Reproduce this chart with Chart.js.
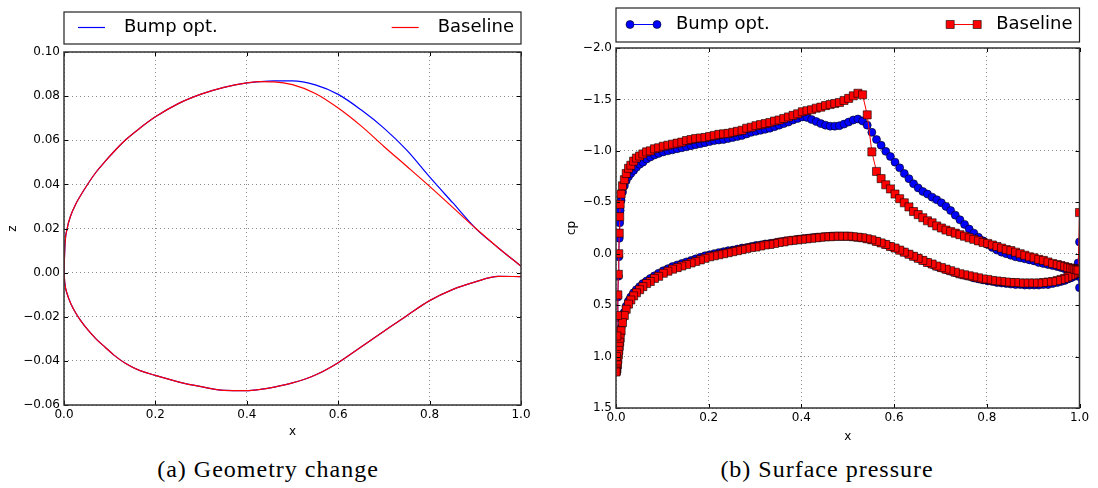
<!DOCTYPE html>
<html>
<head>
<meta charset="utf-8">
<title>Geometry change and surface pressure</title>
<script src="https://cdn.jsdelivr.net/npm/chart.js@4.4.1/dist/chart.umd.min.js"></script>
<style>
    html, body { margin: 0; padding: 0; background: #fff; }
    #page { position: relative; width: 1098px; height: 488px; overflow: hidden; }
    canvas { position: absolute; top: 0; }
    #geoChart { left: 0; }
    #cpChart { left: 549px; }
    .caption {
        position: absolute;
        top: 457px;
        font-family: "Liberation Serif", serif;
        font-size: 24px;
        line-height: 24px;
        letter-spacing: 1px;
        white-space: nowrap;
        transform: translateX(-50%);
        color: #000;
    }
</style>
</head>
<body>
<div id="page">
    <canvas id="geoChart" width="549" height="450" style="width:549px;height:450px"></canvas>
    <canvas id="cpChart" width="549" height="450" style="width:549px;height:450px"></canvas>
    <div class="caption" style="left:268px">(a) Geometry change</div>
    <div class="caption" style="left:827px">(b) Surface pressure</div>
</div>
<script>
// ---- (a) airfoil geometry ----
const geoX = [0, 0.002, 0.007, 0.015, 0.025, 0.035, 0.05, 0.07, 0.09, 0.11,
    0.135, 0.165, 0.2, 0.25, 0.3, 0.35, 0.4, 0.43, 0.46, 0.5,
    0.55, 0.6, 0.65, 0.7, 0.75, 0.8, 0.85, 0.9, 0.95, 1.0];
const baseUpperZ = [0, 0.0122, 0.02, 0.026, 0.0308, 0.0345, 0.0395, 0.0455, 0.0504, 0.0550,
    0.0602, 0.0653, 0.0706, 0.0766, 0.0809, 0.0840, 0.0860, 0.0866, 0.0865, 0.0852,
    0.0812, 0.0746, 0.0665, 0.0572, 0.0482, 0.0391, 0.0297, 0.0202, 0.0113, 0.0029];
const bumpUpperZ = [0, 0.0122, 0.02, 0.026, 0.0308, 0.0345, 0.0395, 0.0455, 0.0504, 0.0550,
    0.0602, 0.0653, 0.0706, 0.0766, 0.0809, 0.0840, 0.0860, 0.0866, 0.0869, 0.0869,
    0.0851, 0.0808, 0.0738, 0.0655, 0.0555, 0.0434, 0.0318, 0.0202, 0.0113, 0.0029];
const lowerZ = [0, -0.0052, -0.0097, -0.0141, -0.0181, -0.0213, -0.0254, -0.030, -0.0338, -0.0375,
    -0.0412, -0.0443, -0.0466, -0.0495, -0.0517, -0.0534, -0.0535, -0.0529, -0.0519, -0.0500,
    -0.0464, -0.0408, -0.0337, -0.0266, -0.0195, -0.0127, -0.0077, -0.0042, -0.0017, -0.0018];

// ---- (b) surface pressure, same x stations on both surfaces ----
const cpX = [0, 0.001, 0.002, 0.003, 0.004, 0.005, 0.006, 0.007, 0.008, 0.009,
    0.011, 0.014, 0.018, 0.022, 0.027, 0.032, 0.038, 0.044, 0.051, 0.058,
    0.066, 0.074, 0.083, 0.092, 0.102, 0.112, 0.122, 0.132, 0.142,
    0.152, 0.162, 0.172, 0.182, 0.192, 0.202, 0.212, 0.222, 0.232, 0.242,
    0.252, 0.262, 0.272, 0.282, 0.292, 0.302, 0.312, 0.322, 0.332, 0.342,
    0.352, 0.362, 0.372, 0.382, 0.392, 0.402, 0.412, 0.422, 0.432, 0.442,
    0.452, 0.462, 0.472, 0.482, 0.492, 0.502, 0.512, 0.522, 0.532, 0.542,
    0.552, 0.562, 0.572, 0.582, 0.592, 0.602, 0.612, 0.622, 0.632, 0.642,
    0.652, 0.662, 0.672, 0.682, 0.692, 0.702, 0.712, 0.722, 0.732, 0.742,
    0.752, 0.762, 0.772, 0.782, 0.792, 0.802, 0.812, 0.822, 0.832, 0.842,
    0.852, 0.862, 0.872, 0.882, 0.892, 0.902, 0.912, 0.922, 0.932, 0.942,
    0.952, 0.96, 0.968, 0.975, 0.981, 0.986, 0.99, 0.994, 0.997, 1.0];
const baseUpperCp = [1.15, 1.00, 0.80, 0.60, 0.40, 0.20, 0.00, -0.20, -0.36, -0.48,
    -0.58, -0.66, -0.72, -0.78, -0.83, -0.86, -0.90, -0.93, -0.95, -0.97,
    -0.99, -1.00, -1.02, -1.03, -1.045, -1.055, -1.065, -1.075, -1.085,
    -1.10, -1.11, -1.12, -1.125, -1.13, -1.14, -1.15, -1.16, -1.165, -1.17,
    -1.18, -1.19, -1.20, -1.22, -1.23, -1.245, -1.255, -1.265, -1.275, -1.29,
    -1.30, -1.315, -1.33, -1.345, -1.36, -1.38, -1.39, -1.40, -1.415, -1.425,
    -1.44, -1.45, -1.46, -1.47, -1.49, -1.51, -1.535, -1.56, -1.545, -1.35,
    -0.99, -0.80, -0.73, -0.67, -0.63, -0.58, -0.535, -0.495, -0.455, -0.41,
    -0.38, -0.35, -0.32, -0.30, -0.27, -0.25, -0.23, -0.215, -0.20, -0.185,
    -0.17, -0.155, -0.14, -0.125, -0.11, -0.10, -0.085, -0.07, -0.055, -0.04,
    -0.03, -0.015, 0.00, 0.015, 0.03, 0.04, 0.055, 0.065, 0.08, 0.095,
    0.105, 0.115, 0.125, 0.135, 0.14, 0.145, 0.15, 0.155, 0.16, -0.40];
const bumpUpperCp = [1.15, 1.00, 0.82, 0.62, 0.42, 0.22, 0.03, -0.15, -0.30, -0.42,
    -0.52, -0.60, -0.66, -0.71, -0.75, -0.78, -0.81, -0.84, -0.87, -0.89,
    -0.92, -0.94, -0.96, -0.975, -0.99, -1.00, -1.01, -1.02, -1.03,
    -1.04, -1.05, -1.06, -1.07, -1.08, -1.09, -1.10, -1.105, -1.11, -1.12,
    -1.13, -1.14, -1.15, -1.165, -1.18, -1.19, -1.20, -1.21, -1.22, -1.235,
    -1.25, -1.265, -1.28, -1.30, -1.315, -1.33, -1.325, -1.305, -1.285, -1.265,
    -1.25, -1.24, -1.24, -1.245, -1.26, -1.28, -1.30, -1.31, -1.29, -1.25,
    -1.18, -1.11, -1.055, -0.995, -0.945, -0.89, -0.835, -0.78, -0.73, -0.68,
    -0.64, -0.605, -0.58, -0.55, -0.525, -0.495, -0.46, -0.42, -0.375, -0.33,
    -0.285, -0.24, -0.20, -0.16, -0.125, -0.09, -0.06, -0.035, -0.015, 0.00,
    0.015, 0.03, 0.04, 0.05, 0.06, 0.07, 0.085, 0.095, 0.105, 0.115,
    0.125, 0.135, 0.145, 0.155, 0.16, 0.17, 0.175, 0.18, 0.09, -0.115];
const baseLowerCp = [1.15, 1.14, 1.12, 1.08, 1.03, 0.98, 0.94, 0.90, 0.86, 0.82,
    0.75, 0.67, 0.60, 0.54, 0.49, 0.45, 0.41, 0.38, 0.35, 0.32,
    0.29, 0.27, 0.24, 0.22, 0.19, 0.17, 0.15, 0.135, 0.12,
    0.105, 0.09, 0.075, 0.06, 0.045, 0.03, 0.02, 0.01, 0.00, -0.01,
    -0.02, -0.03, -0.04, -0.05, -0.06, -0.065, -0.075, -0.085, -0.09, -0.10,
    -0.11, -0.115, -0.125, -0.13, -0.135, -0.14, -0.145, -0.15, -0.155, -0.16,
    -0.165, -0.165, -0.17, -0.17, -0.17, -0.17, -0.165, -0.16, -0.155, -0.145,
    -0.135, -0.12, -0.105, -0.09, -0.07, -0.055, -0.035, -0.015, 0.005, 0.025,
    0.045, 0.065, 0.085, 0.10, 0.12, 0.135, 0.15, 0.165, 0.18, 0.195,
    0.205, 0.215, 0.225, 0.235, 0.245, 0.25, 0.26, 0.265, 0.27, 0.275,
    0.28, 0.28, 0.285, 0.285, 0.285, 0.285, 0.285, 0.28, 0.275, 0.27,
    0.26, 0.25, 0.24, 0.225, 0.21, 0.20, 0.19, 0.18, 0.17, 0.15];
const bumpLowerCp = [1.15, 1.14, 1.11, 1.07, 1.02, 0.97, 0.92, 0.88, 0.84, 0.80,
    0.72, 0.64, 0.57, 0.51, 0.46, 0.42, 0.38, 0.35, 0.32, 0.29,
    0.265, 0.24, 0.215, 0.19, 0.165, 0.145, 0.125, 0.11, 0.095,
    0.08, 0.065, 0.05, 0.035, 0.02, 0.01, 0.00, -0.01, -0.02, -0.03,
    -0.035, -0.045, -0.055, -0.06, -0.07, -0.08, -0.085, -0.095, -0.10, -0.105,
    -0.115, -0.12, -0.125, -0.13, -0.14, -0.145, -0.15, -0.155, -0.16, -0.16,
    -0.165, -0.17, -0.17, -0.17, -0.17, -0.17, -0.165, -0.16, -0.155, -0.145,
    -0.135, -0.12, -0.105, -0.09, -0.07, -0.055, -0.035, -0.015, 0.005, 0.025,
    0.045, 0.065, 0.085, 0.105, 0.125, 0.14, 0.155, 0.17, 0.185, 0.20,
    0.21, 0.22, 0.235, 0.245, 0.255, 0.265, 0.27, 0.28, 0.285, 0.29,
    0.295, 0.30, 0.30, 0.305, 0.305, 0.305, 0.305, 0.30, 0.30, 0.29,
    0.28, 0.27, 0.26, 0.245, 0.235, 0.225, 0.21, 0.20, 0.22, 0.33];

Chart.defaults.font.family = '"DejaVu Sans", sans-serif';
Chart.defaults.font.size = 12;
Chart.defaults.color = '#000';

function toPoints(xs, ys) {
    return xs.map((x, i) => ({ x: x, y: ys[i] }));
}

// Walk the surface: lower from trailing edge to nose, then upper back to trailing edge
function buildLoop(xs, lower, upper) {
    const pts = [];
    for (let i = xs.length - 1; i >= 0; i--) pts.push({ x: xs[i], y: lower[i] });
    for (let i = 1; i < xs.length; i++) pts.push({ x: xs[i], y: upper[i] });
    return pts;
}

function tickFormat(decimals) {
    return value => {
        if (Math.abs(value) < 1e-9) value = 0;
        return value.toFixed(decimals).replace('-', '\u2212');
    };
}

// Box frame with inward tick marks, matplotlib style
const framePlugin = {
    id: 'frame',
    afterDraw(chart) {
        const { ctx, chartArea: a, scales } = chart;
        ctx.save();
        ctx.strokeStyle = '#000';
        ctx.lineWidth = 1;
        ctx.beginPath();
        scales.x.ticks.forEach(t => {
            const px = Math.round(scales.x.getPixelForValue(t.value)) + 0.5;
            ctx.moveTo(px, a.bottom); ctx.lineTo(px, a.bottom - 4);
            ctx.moveTo(px, a.top); ctx.lineTo(px, a.top + 4);
        });
        scales.y.ticks.forEach(t => {
            const py = Math.round(scales.y.getPixelForValue(t.value)) + 0.5;
            ctx.moveTo(a.left, py); ctx.lineTo(a.left + 4, py);
            ctx.moveTo(a.right, py); ctx.lineTo(a.right - 4, py);
        });
        ctx.stroke();
        ctx.strokeStyle = '#333';
        ctx.lineWidth = 1.5;
        ctx.strokeRect(a.left, a.top, a.right - a.left, a.bottom - a.top);
        ctx.restore();
    }
};

function drawMarker(ctx, ds, x, y) {
    ctx.fillStyle = ds.pointBackgroundColor;
    ctx.strokeStyle = ds.pointBorderColor;
    ctx.lineWidth = ds.pointBorderWidth;
    ctx.beginPath();
    if (ds.pointStyle === 'rect') {
        const s = ds.pointRadius * Math.SQRT1_2;
        ctx.rect(x - s, y - s, 2 * s, 2 * s);
    } else {
        ctx.arc(x, y, ds.pointRadius, 0, Math.PI * 2);
    }
    ctx.fill();
    ctx.stroke();
}

// Legend box above the plot: first entry on the left, second pushed to the right
const boxLegend = {
    id: 'boxLegend',
    afterDraw(chart, args, opts) {
        const { ctx, chartArea: a } = chart;
        const items = [];
        chart.data.datasets.forEach(ds => {
            if (!items.some(it => it.label === ds.label)) items.push(ds);
        });
        ctx.save();
        ctx.strokeStyle = '#222';
        ctx.lineWidth = 1.2;
        ctx.strokeRect(a.left, opts.top, a.right - a.left, opts.bottom - opts.top);
        const y = (opts.top + opts.bottom) / 2 - 0.5;
        ctx.font = '18px "DejaVu Sans", sans-serif';
        ctx.textBaseline = 'middle';
        items.forEach((ds, i) => {
            let textX;
            ctx.fillStyle = '#000';
            if (i === 0) {
                textX = a.left + 60;
                ctx.textAlign = 'left';
                ctx.fillText(ds.label, textX, y);
            } else {
                const endX = a.right - 7;
                ctx.textAlign = 'right';
                ctx.fillText(ds.label, endX, y);
                textX = endX - ctx.measureText(ds.label).width;
            }
            const x0 = textX - 46, x1 = textX - 19;
            ctx.strokeStyle = ds.borderColor;
            ctx.lineWidth = ds.borderWidth;
            ctx.beginPath();
            ctx.moveTo(x0, y); ctx.lineTo(x1, y);
            ctx.stroke();
            if (ds.pointRadius > 0) {
                drawMarker(ctx, ds, x0, y);
                drawMarker(ctx, ds, x1, y);
            }
        });
        ctx.restore();
    }
};

function axes(cfg) {
    const grid = { color: '#8a8a8a', lineWidth: 1, drawTicks: false, borderDash: [1, 3] };
    const border = { display: false, dash: [1, 3] };
    return {
        x: {
            type: 'linear', min: 0, max: 1,
            ticks: { stepSize: 0.2, padding: cfg.xTickPad, autoSkip: false, maxRotation: 0, callback: tickFormat(1) },
            grid: grid, border: border,
            title: { display: true, text: 'x', padding: { top: 0, bottom: cfg.xTitlePad } },
            afterFit: scale => { scale.height = cfg.xHeight; }
        },
        y: {
            type: 'linear', min: cfg.yMin, max: cfg.yMax, reverse: cfg.reverse,
            ticks: { stepSize: cfg.yStep, padding: 4, autoSkip: false, callback: tickFormat(cfg.yDecimals) },
            grid: grid, border: border,
            title: { display: true, text: cfg.yTitle, padding: { top: cfg.yTitlePad, bottom: 0 } },
            afterFit: scale => { scale.width = cfg.yWidth; }
        }
    };
}

function baseOptions(padding, legendBox, scales) {
    return {
        responsive: false,
        animation: false,
        events: [],
        layout: { padding: padding },
        plugins: {
            legend: { display: false },
            tooltip: { enabled: false },
            boxLegend: legendBox
        },
        scales: scales
    };
}

function geoSurface(label, color, zs, order) {
    return {
        label: label,
        data: toPoints(geoX, zs),
        borderColor: color, borderWidth: 1.2,
        pointRadius: 0,
        cubicInterpolationMode: 'monotone',
        order: order
    };
}

function initGeometryChart() {
    new Chart(document.getElementById('geoChart'), {
        type: 'line',
        data: {
            datasets: [
                geoSurface('Bump opt.', '#0000ff', bumpUpperZ, 1),
                geoSurface('Bump opt.', '#0000ff', lowerZ, 1),
                geoSurface('Baseline', '#ff0000', baseUpperZ, 0),
                geoSurface('Baseline', '#ff0000', lowerZ, 0)
            ]
        },
        options: baseOptions(
            { top: 52, right: 28, bottom: 0, left: 0 },
            { top: 12, bottom: 44 },
            axes({
                yMin: -0.06, yMax: 0.10, yStep: 0.02, yDecimals: 2, reverse: false,
                yTitle: 'z', yTitlePad: 6, yWidth: 64,
                xHeight: 45, xTickPad: 3, xTitlePad: 11
            })
        ),
        plugins: [framePlugin, boxLegend]
    });
}

function initPressureChart() {
    new Chart(document.getElementById('cpChart'), {
        type: 'line',
        data: {
            datasets: [
                {
                    label: 'Bump opt.',
                    data: buildLoop(cpX, bumpLowerCp, bumpUpperCp),
                    borderColor: '#0000ff', borderWidth: 1,
                    pointStyle: 'circle', pointRadius: 4,
                    pointBackgroundColor: '#0000ff', pointBorderColor: '#000', pointBorderWidth: 0.6,
                    tension: 0, order: 1
                },
                {
                    label: 'Baseline',
                    data: buildLoop(cpX, baseLowerCp, baseUpperCp),
                    borderColor: '#ff0000', borderWidth: 1,
                    pointStyle: 'rect', pointRadius: 5.7,
                    pointBackgroundColor: '#ff0000', pointBorderColor: '#000', pointBorderWidth: 0.6,
                    tension: 0, order: 0
                }
            ]
        },
        options: baseOptions(
            { top: 48, right: 18.5, bottom: 0, left: 0 },
            { top: 8, bottom: 42 },
            axes({
                yMin: -2.0, yMax: 1.5, yStep: 0.5, yDecimals: 1, reverse: true,
                yTitle: 'cp', yTitlePad: 15.5, yWidth: 67,
                xHeight: 42, xTickPad: 3, xTitlePad: 6
            })
        ),
        plugins: [framePlugin, boxLegend]
    });
}

initGeometryChart();
initPressureChart();
</script>
</body>
</html>
